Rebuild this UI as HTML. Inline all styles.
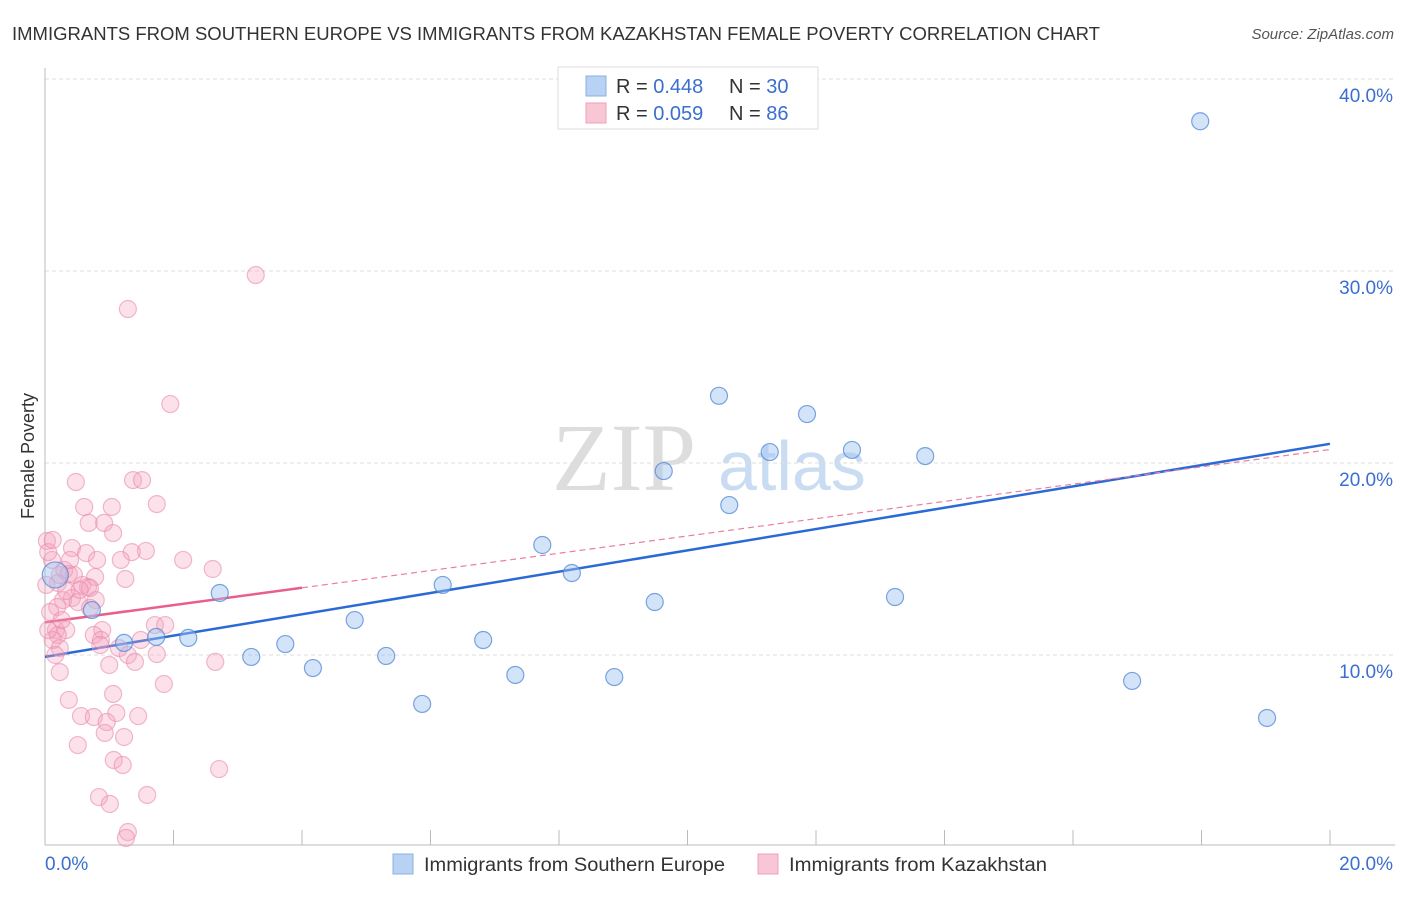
<!DOCTYPE html>
<html><head><meta charset="utf-8"><style>
body{margin:0;background:#fff;font-family:"Liberation Sans",sans-serif;}
</style></head><body>
<svg id="chart" width="1406" height="892" xmlns="http://www.w3.org/2000/svg" font-family="Liberation Sans, sans-serif">
<text x="12" y="40" font-size="18" fill="#333" textLength="1088" lengthAdjust="spacingAndGlyphs">IMMIGRANTS FROM SOUTHERN EUROPE VS IMMIGRANTS FROM KAZAKHSTAN FEMALE POVERTY CORRELATION CHART</text>
<text x="1394" y="39" font-size="15" fill="#555" font-style="italic" text-anchor="end">Source: ZipAtlas.com</text>
<text transform="translate(34,456) rotate(-90)" font-size="18" fill="#333" text-anchor="middle">Female Poverty</text>
<g>
<text x="552" y="490" font-size="96" fill="#ddd" font-family="Liberation Serif, serif">ZIP</text>
<text x="718" y="490" font-size="70" fill="#c9dcf2">atlas</text>
</g>
<g id="grid"></g><g id="axes"></g><g id="lines"></g><g id="pts"></g>
<g>
<rect x="558" y="67" width="260" height="62" fill="#fff" stroke="#ddd"/>
<rect x="586" y="76" width="20" height="20" fill="#b8d2f4" stroke="#8ab0e6"/>
<rect x="586" y="103" width="20" height="20" fill="#f9c6d5" stroke="#eda0b8"/>
<text x="616" y="93" font-size="20" fill="#333">R = <tspan fill="#3a6fd0">0.448</tspan></text>
<text x="729" y="93" font-size="20" fill="#333">N = <tspan fill="#3a6fd0">30</tspan></text>
<text x="616" y="120" font-size="20" fill="#333">R = <tspan fill="#3a6fd0">0.059</tspan></text>
<text x="729" y="120" font-size="20" fill="#333">N = <tspan fill="#3a6fd0">86</tspan></text>
</g>
<g>
<rect x="393" y="854" width="20" height="20" fill="#b8d2f4" stroke="#8ab0e6"/>
<text x="424" y="871" font-size="19" fill="#333" textLength="301" lengthAdjust="spacingAndGlyphs">Immigrants from Southern Europe</text>
<rect x="758" y="854" width="20" height="20" fill="#f9c6d5" stroke="#eda0b8"/>
<text x="789" y="871" font-size="19" fill="#333" textLength="258" lengthAdjust="spacingAndGlyphs">Immigrants from Kazakhstan</text>
</g>
</svg>
<script>
const yTicks=[10,20,30,40];
const yTickLabels=["10.0%","20.0%","30.0%","40.0%"];
const xTickLabels=["0.0%","20.0%"];
const blueX=[17.98,10.49,11.86,11.28,12.56,13.70,9.63,10.65,7.74,8.20,6.19,9.49,13.23,2.72,0.73,4.82,2.23,1.23,1.73,3.74,6.82,3.21,5.31,4.17,7.32,8.86,5.87,16.92,19.02,0.16];
const blueY=[37.8,23.5,22.55,20.57,20.68,20.36,19.58,17.81,15.73,14.27,13.65,12.76,13.02,13.23,12.34,11.82,10.89,10.63,10.94,10.57,10.78,9.90,9.95,9.32,8.96,8.85,7.45,8.65,6.72,14.17];
const pinkX=[1.29,3.28,1.95,0.48,1.37,1.51,1.74,0.61,1.04,0.68,0.92,1.06,0.03,0.42,0.64,1.57,1.35,0.81,1.18,2.15,2.61,0.11,0.30,0.37,0.78,1.25,0.20,0.58,0.67,0.42,0.79,0.28,0.51,0.19,0.70,1.71,1.87,0.17,0.33,0.89,0.76,0.20,1.15,0.87,1.49,0.12,0.23,1.29,1.74,2.65,1.0,1.40,0.23,1.85,0.37,1.06,0.56,0.76,1.11,1.45,0.96,0.93,1.23,0.51,1.07,1.21,2.71,0.84,1.01,1.59,1.29,1.26,0.05,0.02,0.33,0.45,0.08,0.16,0.05,0.12,0.23,0.70,0.86,0.39,0.54,0.26];
const pinkY=[28.02,29.79,23.07,19.01,19.11,19.11,17.86,17.71,17.71,16.88,16.88,16.35,15.94,15.57,15.31,15.42,15.36,14.95,14.95,14.95,14.48,14.95,14.43,14.22,14.06,13.96,13.75,13.65,13.54,12.97,12.86,12.86,12.76,12.50,12.45,11.56,11.56,11.30,11.30,11.30,11.04,11.04,10.36,10.78,10.78,10.78,10.36,10.0,10.05,9.64,9.48,9.64,9.11,8.49,7.66,7.97,6.82,6.77,6.98,6.82,6.51,5.94,5.73,5.31,4.53,4.27,4.06,2.60,2.24,2.71,0.78,0.47,15.36,13.65,13.33,14.17,12.24,10.0,11.30,15.99,14.17,13.49,10.52,14.95,13.39,11.82];
const blueFit=[9.9,21.0];
const pinkFit=[11.7,20.7];
const pinkSolidEnd=4.0;
const NS="http://www.w3.org/2000/svg";
const X=v=>45+v*64.25, Y=v=>847-v*19.2;
function mk(t,a,p){const e=document.createElementNS(NS,t);for(const k in a)e.setAttribute(k,a[k]);document.getElementById(p).appendChild(e);return e;}
yTicks.forEach((t,i)=>{
 const g=mk('line',{x1:45,x2:1395,y1:Y(t),y2:Y(t),stroke:'#ddd','stroke-dasharray':'4,3'},'grid');
 
 
 const l=mk('text',{x:1393,y:Y(t)+23,'font-size':19,fill:'#3a6fd0','text-anchor':'end'},'grid');
 l.textContent=yTickLabels[i];
 
 
});
mk('line',{x1:45,x2:45,y1:68,y2:845,stroke:'#bbb'},'axes');
mk('line',{x1:45,x2:1395,y1:845,y2:845,stroke:'#bbb'},'axes');
for(let i=1;i<=10;i++){mk('line',{x1:X(i*2),x2:X(i*2),y1:830,y2:845,stroke:'#bbb'},'axes');}
const xl0=mk('text',{x:45,y:870,'font-size':19,fill:'#3a6fd0'},'axes');xl0.textContent=xTickLabels[0];


const xl1=mk('text',{x:1393,y:870,'font-size':19,fill:'#3a6fd0','text-anchor':'end'},'axes');xl1.textContent=xTickLabels[1];


const pf=v=>pinkFit[0]+(pinkFit[1]-pinkFit[0])*v/20;
const bl=mk('line',{x1:X(0),y1:Y(blueFit[0]),x2:X(20),y2:Y(blueFit[1]),stroke:'#2a6ad6','stroke-width':2.5},'lines');


const pd=mk('line',{x1:X(pinkSolidEnd),y1:Y(pf(pinkSolidEnd)),x2:X(20),y2:Y(pf(20)),stroke:'#e87fa0','stroke-width':1.2,'stroke-dasharray':'6,4'},'lines');


const ps=mk('line',{x1:X(0),y1:Y(pf(0)),x2:X(pinkSolidEnd),y2:Y(pf(pinkSolidEnd)),stroke:'#e8608a','stroke-width':2.5},'lines');


pinkX.forEach((x,i)=>{const c=mk('circle',{cx:X(x),cy:Y(pinkY[i]),r:8.5,fill:'rgba(245,165,190,0.33)',stroke:'rgba(232,140,172,0.6)','stroke-width':1.2},'pts');
 
 });
blueX.forEach((x,i)=>{const c=mk('circle',{cx:X(x),cy:Y(blueY[i]),r:i==29?13:8.5,fill:'rgba(160,195,240,0.45)',stroke:'rgba(80,135,215,0.75)','stroke-width':1.2},'pts');
 
 });
</script>
</body></html>
